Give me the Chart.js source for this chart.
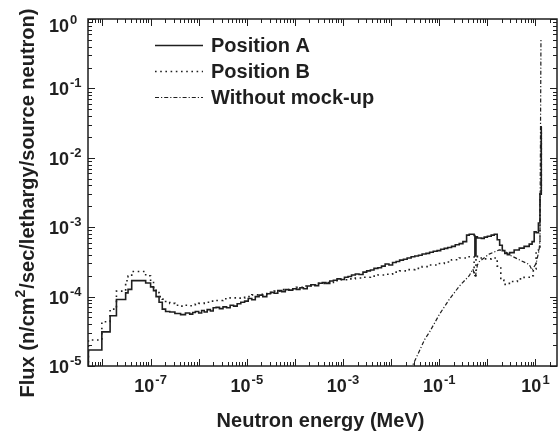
<!DOCTYPE html>
<html>
<head>
<meta charset="utf-8">
<script src="https://cdn.jsdelivr.net/npm/chart.js"></script>
<style>
  html, body { margin: 0; padding: 0; background: #fff; }
  #wrap { position: relative; width: 559px; height: 434px; }
</style>
</head>
<body>
<div id="wrap"><canvas id="chart"></canvas></div>
<script>
// Neutron energy in MeV, flux in n/cm2/sec/lethargy/source neutron.
// Histogram series: each point is the upper edge of a group and its value,
// the first point only marks where the first group starts.
const energyA = [5.1e-9, 9.7e-9, 1.44e-8, 1.95e-8, 3.03e-8, 3.4e-8, 4.05e-8, 7.9e-8,
  1.0e-7, 1.15e-7, 1.3e-7, 1.5e-7, 1.75e-7, 2.05e-7, 2.5e-7, 3.2e-7, 4.2e-7, 5.3e-7, 6.5e-7, 7.5e-7, 8.5e-7,
  1.0e-6, 1.15e-6, 1.3e-6, 1.5e-6, 1.75e-6, 2.0e-6, 2.3e-6, 2.7e-6, 3.2e-6, 3.8e-6, 4.5e-6, 5.3e-6, 6.3e-6, 7.5e-6, 9.0e-6,
  1.07e-5, 1.27e-5, 1.5e-5, 1.8e-5, 2.15e-5, 2.6e-5, 3.1e-5, 3.7e-5, 4.4e-5, 5.3e-5, 6.3e-5, 7.5e-5, 9.0e-5,
  1.07e-4, 1.27e-4, 1.5e-4, 1.8e-4, 2.15e-4, 2.6e-4, 3.1e-4, 3.7e-4, 4.4e-4, 5.3e-4, 6.3e-4, 7.5e-4, 9.0e-4,
  1.07e-3, 1.27e-3, 1.5e-3, 1.8e-3, 2.15e-3, 2.6e-3, 3.1e-3, 3.7e-3, 4.4e-3, 5.3e-3, 6.3e-3, 7.5e-3, 9.0e-3,
  1.07e-2, 1.27e-2, 1.5e-2, 1.8e-2, 2.15e-2, 2.6e-2, 3.1e-2, 3.7e-2, 4.4e-2, 5.3e-2, 6.3e-2, 7.5e-2, 9.0e-2,
  0.107, 0.127, 0.15, 0.18, 0.215, 0.26, 0.31, 0.37, 0.42, 0.53, 0.55, 0.58, 0.62, 0.75, 0.86,
  1.0, 1.2, 1.39, 1.6, 1.8, 2.04, 2.3, 2.6, 2.9, 3.6, 4.6, 5.8, 7.4, 8.5, 9.4,
  10.3, 11.5, 12.4, 13.2, 13.6];
const fluxA = [1e-6, 1.7e-5, 3.1e-5, 5.3e-5, 9.1e-5, 1.13e-4, 1.27e-4, 1.7e-4,
  1.57e-4, 1.38e-4, 1.22e-4, 1.0e-4, 8.3e-5, 6.6e-5, 6.1e-5, 6.0e-5, 5.7e-5, 5.5e-5, 5.8e-5, 5.6e-5, 5.9e-5,
  6.1e-5, 5.8e-5, 6.3e-5, 6.0e-5, 6.5e-5, 6.2e-5, 6.9e-5, 7.0e-5, 6.7e-5, 7.1e-5, 6.9e-5, 7.5e-5, 7.3e-5, 7.9e-5, 8.3e-5,
  8.6e-5, 9.4e-5, 9.0e-5, 1.0e-4, 1.05e-4, 1.0e-4, 1.1e-4, 1.15e-4, 1.12e-4, 1.22e-4, 1.18e-4, 1.26e-4, 1.24e-4,
  1.3e-4, 1.27e-4, 1.34e-4, 1.3e-4, 1.42e-4, 1.48e-4, 1.44e-4, 1.56e-4, 1.6e-4, 1.55e-4, 1.68e-4, 1.72e-4, 1.8e-4,
  1.76e-4, 1.9e-4, 1.95e-4, 2.05e-4, 2.12e-4, 2.08e-4, 2.25e-4, 2.35e-4, 2.42e-4, 2.55e-4, 2.6e-4, 2.75e-4, 2.95e-4,
  2.85e-4, 3.1e-4, 3.2e-4, 3.35e-4, 3.45e-4, 3.6e-4, 3.75e-4, 3.85e-4, 3.95e-4, 4.1e-4, 4.2e-4, 4.35e-4, 4.5e-4,
  4.6e-4, 4.8e-4, 4.95e-4, 5.1e-4, 5.3e-4, 5.6e-4, 5.8e-4, 6.2e-4, 7.7e-4, 7.9e-4, 7.6e-4, 3.85e-4, 7.3e-4, 7.0e-4, 6.9e-4,
  7.2e-4, 7.4e-4, 7.7e-4, 7.9e-4, 6.6e-4, 5.5e-4, 4.6e-4, 4.2e-4, 4.0e-4, 4.3e-4, 4.7e-4, 5.0e-4, 5.3e-4, 5.7e-4, 6.2e-4,
  8.6e-4, 8.3e-4, 1.15e-3, 3.0e-3, 2.8e-2];

const energyB = [5.1e-9, 9.7e-9, 1.44e-8, 1.95e-8, 3.03e-8, 3.4e-8, 4.05e-8, 7.9e-8,
  1.0e-7, 1.15e-7, 1.3e-7, 1.5e-7, 1.75e-7, 2.05e-7, 2.5e-7, 3.2e-7, 4.2e-7, 5.3e-7, 6.5e-7, 8.5e-7,
  1.0e-6, 1.3e-6, 1.75e-6, 2.3e-6, 3.2e-6, 4.5e-6, 6.3e-6, 9.0e-6,
  1.27e-5, 1.8e-5, 2.6e-5, 3.7e-5, 5.3e-5, 7.5e-5,
  1.07e-4, 1.5e-4, 2.15e-4, 3.1e-4, 4.4e-4, 6.3e-4, 9.0e-4,
  1.27e-3, 1.8e-3, 2.6e-3, 3.7e-3, 5.3e-3, 7.5e-3,
  1.07e-2, 1.5e-2, 2.15e-2, 3.1e-2, 4.4e-2, 6.3e-2, 9.0e-2,
  0.127, 0.18, 0.26, 0.37, 0.53, 0.58, 0.62, 0.86,
  1.2, 1.6, 1.9, 2.2, 2.6, 3.2, 4.2, 5.8, 7.4, 9.0,
  10.3, 11.5, 12.4, 13.2, 13.6];
const fluxB = [1e-6, 2.37e-5, 4.35e-5, 6.6e-5, 1.2e-4, 1.69e-4, 1.97e-4, 2.3e-4,
  2.0e-4, 1.6e-4, 1.35e-4, 1.14e-4, 1.0e-4, 9.2e-5, 8.5e-5, 8.0e-5, 7.5e-5, 7.3e-5, 7.5e-5, 7.4e-5,
  7.8e-5, 8.0e-5, 8.3e-5, 8.6e-5, 8.8e-5, 9.3e-5, 9.6e-5, 9.5e-5,
  1.0e-4, 1.06e-4, 1.08e-4, 1.14e-4, 1.2e-4, 1.26e-4,
  1.3e-4, 1.36e-4, 1.42e-4, 1.47e-4, 1.55e-4, 1.6e-4, 1.7e-4,
  1.75e-4, 1.8e-4, 1.85e-4, 1.9e-4, 1.97e-4, 2.05e-4,
  2.1e-4, 2.25e-4, 2.35e-4, 2.45e-4, 2.55e-4, 2.7e-4, 2.85e-4,
  3.0e-4, 3.15e-4, 3.4e-4, 3.6e-4, 3.75e-4, 2.0e-4, 3.8e-4, 3.6e-4,
  3.5e-4, 3.6e-4, 2.75e-4, 1.73e-4, 1.5e-4, 1.55e-4, 1.65e-4, 1.8e-4, 1.9e-4, 2.0e-4,
  2.5e-4, 4.6e-4, 5.2e-4, 3.0e-3, 2.5e-2];

const energyC = [0.0254, 0.028, 0.039, 0.0495, 0.063, 0.1, 0.163, 0.262, 0.42, 0.5, 0.56, 0.62,
  0.68, 1.09, 1.76, 2.24, 2.84, 4.57, 7.4, 8.5, 10.3, 11.9, 12.4, 13.0];
const fluxC = [8.7e-6, 1.02e-5, 1.67e-5, 2.4e-5, 3.1e-5, 5.5e-5, 9.2e-5, 1.42e-4, 2.0e-4, 2.5e-4, 1.9e-4, 2.85e-4,
  3.2e-4, 4.1e-4, 4.7e-4, 4.6e-4, 4.0e-4, 3.4e-4, 2.9e-4, 2.4e-4, 3.0e-4, 4.7e-4, 6.6e-4, 0.53];

const seriesNames = ['Position A', 'Position B', 'Without mock-up'];

const xTickValues = [1e-7, 1e-5, 1e-3, 1e-1, 1e1];
const xTickExps = ['-7', '-5', '-3', '-1', '1'];
const yTickValues = [1e0, 1e-1, 1e-2, 1e-3, 1e-4, 1e-5];
const yTickExps = ['0', '-1', '-2', '-3', '-4', '-5'];

const xTitle = 'Neutron energy (MeV)';
const yTitleParts = ['Flux (n/cm', '2', '/sec/lethargy/source neutron)'];

const ink = '#1f1f1f';
const FONT = '"Liberation Sans", Arial, sans-serif';

function pairs(xs, ys) {
  return xs.map((e, i) => ({ x: e, y: ys[i] }));
}

// "10" with a raised exponent, starting at x
function drawPower(ctx, exp, x, baseline) {
  ctx.font = 'bold 18px ' + FONT;
  ctx.textAlign = 'left';
  ctx.textBaseline = 'alphabetic';
  ctx.fillText('10', x, baseline);
  const w = ctx.measureText('10').width;
  ctx.font = 'bold 13px ' + FONT;
  ctx.fillText(exp, x + w + 1, baseline - 8);
  return w + 1 + ctx.measureText(exp).width;
}
function powerWidth(ctx, exp) {
  ctx.font = 'bold 18px ' + FONT;
  const w = ctx.measureText('10').width;
  ctx.font = 'bold 13px ' + FONT;
  return w + 1 + ctx.measureText(exp).width;
}

const frame = {
  id: 'frame',
  afterDatasetsDraw(chart) {
    const { ctx, chartArea: a } = chart;
    const xs = chart.scales.x, ys = chart.scales.y;
    ctx.save();
    ctx.strokeStyle = ink;
    ctx.fillStyle = ink;
    ctx.lineWidth = 1.5;
    ctx.strokeRect(a.left, a.top, a.right - a.left, a.bottom - a.top);

    // inward ticks on all four sides, decades long, 2..9 short
    ctx.lineWidth = 1;
    ctx.beginPath();
    for (let d = -9; d <= 1; d++) {
      for (let m = 1; m <= 9; m++) {
        const v = m * Math.pow(10, d);
        const len = m === 1 ? 7 : 4;
        if (v >= xs.min && v <= xs.max) {
          const px = Math.round(xs.getPixelForValue(v)) + 0.5;
          ctx.moveTo(px, a.bottom); ctx.lineTo(px, a.bottom - len);
          ctx.moveTo(px, a.top); ctx.lineTo(px, a.top + len);
        }
        if (v >= ys.min * 0.999 && v <= ys.max * 1.001) {
          const py = Math.round(ys.getPixelForValue(v)) + 0.5;
          ctx.moveTo(a.left, py); ctx.lineTo(a.left + len, py);
          ctx.moveTo(a.right, py); ctx.lineTo(a.right - len, py);
        }
      }
    }
    ctx.stroke();

    // tick labels
    xTickValues.forEach((v, i) => {
      const px = xs.getPixelForValue(v);
      const w = powerWidth(ctx, xTickExps[i]);
      drawPower(ctx, xTickExps[i], px - w / 2, a.bottom + 26);
    });
    yTickValues.forEach((v, i) => {
      const py = Math.max(ys.getPixelForValue(v), a.top + 6);
      drawPower(ctx, yTickExps[i], 49, py + 7);
    });

    // axis titles
    ctx.font = 'bold 20px ' + FONT;
    ctx.textAlign = 'center';
    ctx.fillText(xTitle, (a.left + a.right) / 2 - 2, 427);

    ctx.translate(34, 203);
    ctx.rotate(-Math.PI / 2);
    ctx.textAlign = 'left';
    ctx.font = 'bold 20px ' + FONT;
    const w0 = ctx.measureText(yTitleParts[0]).width;
    const w2 = ctx.measureText(yTitleParts[2]).width;
    ctx.font = 'bold 14px ' + FONT;
    const w1 = ctx.measureText(yTitleParts[1]).width;
    let tx = -(w0 + w1 + w2 + 1) / 2;
    ctx.font = 'bold 20px ' + FONT;
    ctx.fillText(yTitleParts[0], tx, 0);
    tx += w0;
    ctx.font = 'bold 14px ' + FONT;
    ctx.fillText(yTitleParts[1], tx, -9);
    tx += w1 + 1;
    ctx.font = 'bold 20px ' + FONT;
    ctx.fillText(yTitleParts[2], tx, 0);
    ctx.restore();
  },
  afterDraw(chart) {
    const ctx = chart.ctx;
    const rows = [45, 71, 97];
    ctx.save();
    chart.data.datasets.forEach((ds, i) => {
      const y = rows[i];
      ctx.strokeStyle = ink;
      ctx.lineWidth = ds.borderWidth;
      ctx.setLineDash(ds.borderDash || []);
      ctx.beginPath();
      ctx.moveTo(155, y + 0.5);
      ctx.lineTo(203, y + 0.5);
      ctx.stroke();
      ctx.setLineDash([]);
      ctx.fillStyle = ink;
      ctx.font = 'bold 20px ' + FONT;
      ctx.textAlign = 'left';
      ctx.textBaseline = 'alphabetic';
      ctx.fillText(ds.label, 211, y + 7);
    });
    ctx.restore();
  }
};

new Chart(document.getElementById('chart'), {
  type: 'line',
  data: {
    datasets: [
      {
        label: seriesNames[0],
        data: pairs(energyA, fluxA),
        borderColor: ink,
        borderWidth: 1.6,
        stepped: 'after',
        pointRadius: 0,
        fill: false
      },
      {
        label: seriesNames[1],
        data: pairs(energyB, fluxB),
        borderColor: ink,
        borderWidth: 1.6,
        borderDash: [1.6, 3.6],
        stepped: 'after',
        pointRadius: 0,
        fill: false
      },
      {
        label: seriesNames[2],
        data: pairs(energyC, fluxC),
        borderColor: ink,
        borderWidth: 1.2,
        borderDash: [4, 2, 1.2, 2],
        pointRadius: 0,
        tension: 0,
        fill: false
      }
    ]
  },
  options: {
    responsive: true,
    maintainAspectRatio: false,
    animation: false,
    layout: { padding: { left: 88, top: 19, right: 2, bottom: 68 } },
    scales: {
      x: { type: 'logarithmic', min: 5e-9, max: 28, display: false },
      y: { type: 'logarithmic', min: 1e-5, max: 1, display: false }
    },
    plugins: {
      legend: { display: false },
      tooltip: { enabled: false }
    }
  },
  plugins: [frame]
});
</script>
</body>
</html>
